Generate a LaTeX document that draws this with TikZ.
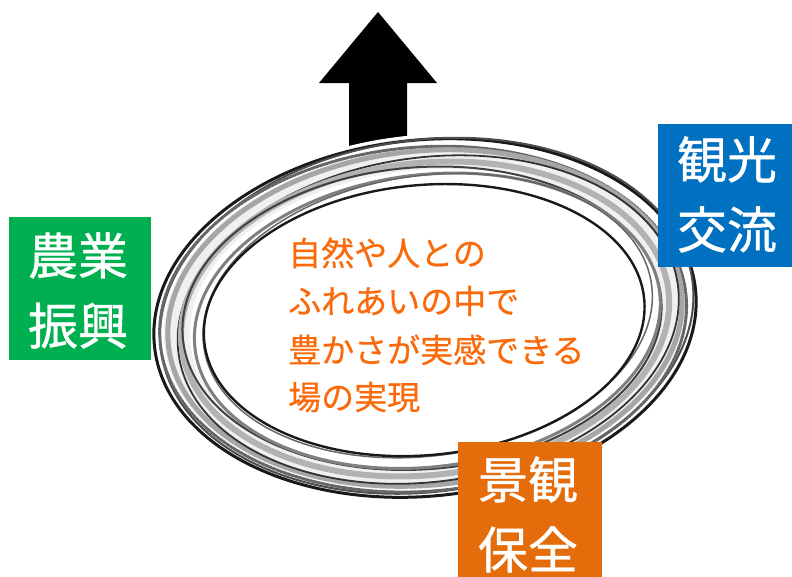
\documentclass[tikz,border=0pt]{standalone}
\usepackage{fontspec}
\newfontfamily\jpbox[FakeBold=0.8]{Noto Sans CJK JP}
\newfontfamily\jptxt[FakeBold=0.5]{Noto Sans CJK JP}
\definecolor{grn}{RGB}{0,176,80}
\definecolor{blu}{RGB}{0,112,192}
\definecolor{org}{RGB}{228,108,10}
\definecolor{txtorg}{RGB}{250,105,10}
\begin{document}
\begin{tikzpicture}[x=1pt,y=-1pt,
  colorbox/.style={rectangle, draw=none, inner sep=0pt, minimum width=#1},
  boxtext/.style={text=white, inner sep=0pt, align=center, font=\jpbox\fontsize{50}{70}\selectfont},
  otext/.style={text=txtorg, inner sep=0pt, anchor=base west, font=\jptxt\fontsize{33}{40}\selectfont},
  ringline/.style={line width=#1, line cap=round}
]
\useasboundingbox (0,0) rectangle (792,576);
% arrow
\fill[black] (378,12) -- (437,83) -- (407,83) -- (407,180) -- (349,180) -- (349,83) -- (319,83) -- cycle;
% ring
\begin{scope}[shift={(425,318)}, rotate=6]
  \fill[white, even odd rule] (0,0) ellipse [x radius=277, y radius=183] (0,0) ellipse [x radius=216, y radius=130];
  \fill[black!6, even odd rule] (0,0) ellipse [x radius=262, y radius=170] (0,0) ellipse [x radius=236, y radius=148];
  \draw[ringline=3, black!90] (0,0) ellipse [x radius=272, y radius=178];
  \draw[ringline=2, black!70, rotate=1.5] (2,-2) ellipse [x radius=268, y radius=176];
  \draw[ringline=3, black!60, densely dotted, rotate=-1] (-2,1) ellipse [x radius=264, y radius=172];
  \draw[ringline=5, black!35] (0,0) ellipse [x radius=258, y radius=167];
  \draw[ringline=1.8, black!80, rotate=2] (3,2) ellipse [x radius=252, y radius=162];
  \draw[ringline=6, black!30, densely dotted, rotate=0.5] (0,1) ellipse [x radius=245, y radius=156];
  \draw[ringline=2, black!75, rotate=-1.5] (-3,0) ellipse [x radius=240, y radius=151];
  \draw[ringline=3, black!50, rotate=1] (2,3) ellipse [x radius=234, y radius=146];
  \draw[ringline=1.5, black!60, rotate=2] (3,-2) ellipse [x radius=226, y radius=140];
  \draw[ringline=2.4, black!90, rotate=-0.5] (-1,2) ellipse [x radius=221, y radius=135];
\end{scope}
% boxes
\node[colorbox=142, fill=grn, minimum height=143] (nogyobox) at (80,288.5) {};
\node[colorbox=134, fill=blu, minimum height=143] (kankobox) at (725,195.5) {};
\node[colorbox=144, fill=org, minimum height=143] (keikanbox) at (530,513.5) {};
\node[boxtext] (nogyo) at (78,290.5) {農業\\振興};
\node[boxtext] (kanko) at (727,194.5) {観光\\交流};
\node[boxtext] (keikan) at (528,514.5) {景観\\保全};
% central text
\node[otext] (l1) at (288,265.5) {自然や人との};
\node[otext] (l2) at (288,313.5) {ふれあいの中で};
\node[otext] (l3) at (288,362.5) {豊かさが実感できる};
\node[otext] (l4) at (288,409.5) {場の実現};
\end{tikzpicture}
\end{document}
